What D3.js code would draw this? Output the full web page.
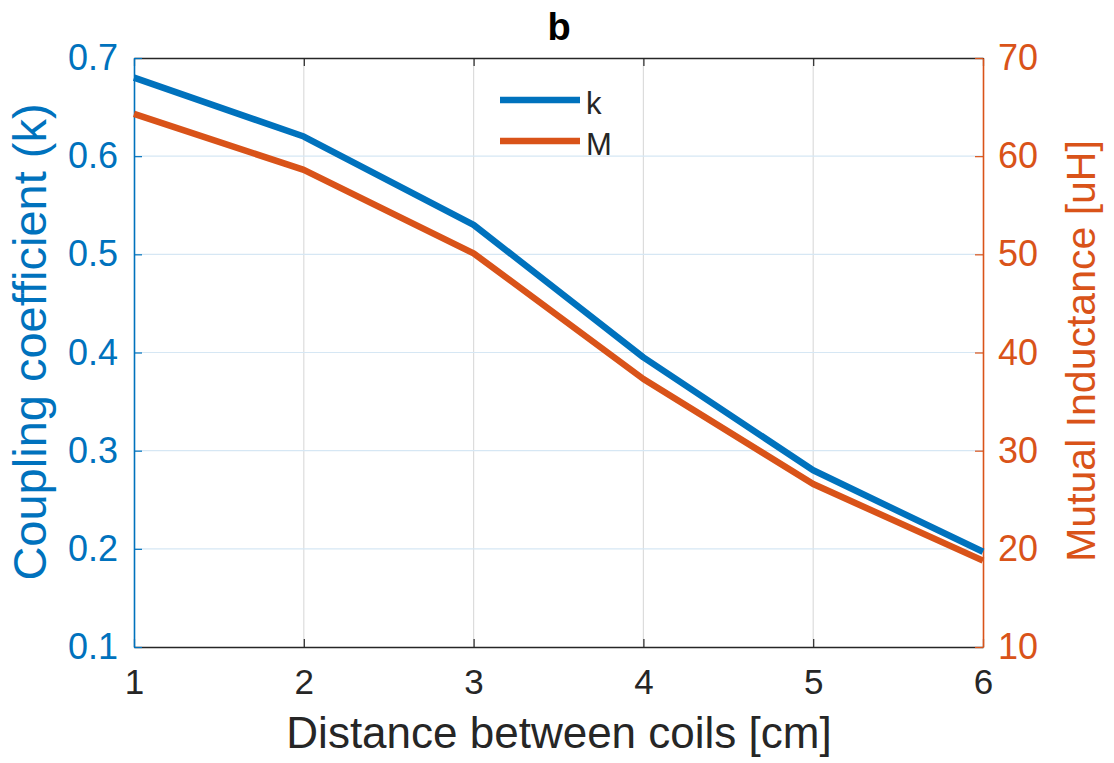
<!DOCTYPE html>
<html>
<head>
<meta charset="utf-8">
<style>
body { margin: 0; background: #fff; }
text { font-family: "Liberation Sans", Arial, sans-serif; }
</style>
<script src="https://d3js.org/d3.v7.min.js"></script>
</head>
<body>
<svg id="chart" width="1114" height="763"></svg>
<script>
// values
var distance = [1, 2, 3, 4, 5, 6];
var kValues = [0.68, 0.62, 0.53, 0.395, 0.28, 0.197];
var mValues = [64.3, 58.6, 50.1, 37.3, 26.6, 18.8];
var xTicks = [1, 2, 3, 4, 5, 6];
var kTicks = [0.1, 0.2, 0.3, 0.4, 0.5, 0.6, 0.7];
var mTicks = [10, 20, 30, 40, 50, 60, 70];

var blue = "#0072BD", orange = "#D95319", dark = "#262626";
var plotL = 134, plotR = 983, plotT = 58, plotB = 647;
var font = "'Liberation Sans', Arial, sans-serif";

var svg = d3.select("#chart");
var x = d3.scaleLinear().domain([1, 6]).range([plotL, plotR]);
var yk = d3.scaleLinear().domain([0.1, 0.7]).range([plotB, plotT]);
var ym = d3.scaleLinear().domain([10, 70]).range([plotB, plotT]);

// grid
svg.append("g").selectAll("line").data(xTicks.slice(1, -1)).join("line")
  .attr("x1", function(d){ return x(d); }).attr("x2", function(d){ return x(d); })
  .attr("y1", plotT).attr("y2", plotB)
  .attr("stroke", "#dcdcdc").attr("stroke-width", 1.2);
svg.append("g").selectAll("line").data(kTicks.slice(1, -1)).join("line")
  .attr("x1", plotL).attr("x2", plotR)
  .attr("y1", function(d){ return yk(d); }).attr("y2", function(d){ return yk(d); })
  .attr("stroke", "#d6e7f4").attr("stroke-width", 1.2);

// axes
var gb = svg.append("g").attr("transform", "translate(0," + plotB + ")")
  .call(d3.axisBottom(x).tickValues(xTicks).tickFormat(d3.format("d"))
    .tickSizeInner(-8).tickSizeOuter(0).tickPadding(22));
var gt = svg.append("g").attr("transform", "translate(0," + plotT + ")")
  .call(d3.axisTop(x).tickValues(xTicks).tickSizeInner(-8).tickSizeOuter(0).tickFormat(""));
[gb, gt].forEach(function(g){
  g.select(".domain").attr("stroke", dark).attr("stroke-width", 1.5);
  g.selectAll(".tick line").attr("stroke", dark).attr("stroke-width", 1.2);
  g.selectAll("text").attr("fill", dark).style("font-size", "35px").style("font-family", font);
});

var gl = svg.append("g").attr("transform", "translate(" + plotL + ",0)")
  .call(d3.axisLeft(yk).tickValues(kTicks).tickFormat(d3.format(".1f"))
    .tickSizeInner(-8).tickSizeOuter(0).tickPadding(16));
var gr = svg.append("g").attr("transform", "translate(" + plotR + ",0)")
  .call(d3.axisRight(ym).tickValues(mTicks).tickFormat(d3.format("d"))
    .tickSizeInner(-8).tickSizeOuter(0).tickPadding(15));
[[gl, blue], [gr, orange]].forEach(function(p){
  var g = p[0], c = p[1];
  g.select(".domain").attr("stroke", c).attr("stroke-width", 1.6);
  g.selectAll(".tick line").attr("stroke", c).attr("stroke-width", 1.2);
  g.selectAll("text").attr("fill", c).style("font-size", "36px").style("font-family", font);
});

// lines
var lineK = d3.line().x(function(d, i){ return x(distance[i]); }).y(function(d){ return yk(d); });
var lineM = d3.line().x(function(d, i){ return x(distance[i]); }).y(function(d){ return ym(d); });
svg.append("path").datum(kValues).attr("d", lineK)
  .attr("fill", "none").attr("stroke", blue).attr("stroke-width", 6.5).attr("stroke-linejoin", "round");
svg.append("path").datum(mValues).attr("d", lineM)
  .attr("fill", "none").attr("stroke", orange).attr("stroke-width", 6.5).attr("stroke-linejoin", "round");

// legend
var legend = [["k", blue], ["M", orange]];
var lg = svg.append("g").selectAll("g").data(legend).join("g")
  .attr("transform", function(d, i){ return "translate(500," + (100 + i * 41) + ")"; });
lg.append("line").attr("x1", 0).attr("x2", 80)
  .attr("stroke", function(d){ return d[1]; }).attr("stroke-width", 6.5);
lg.append("text").attr("x", 86).attr("y", 14).attr("fill", dark)
  .style("font-size", "31px").text(function(d){ return d[0]; });

// titles
svg.append("text").attr("x", 559).attr("y", 40).attr("text-anchor", "middle")
  .attr("fill", "#000").style("font-size", "38px").style("font-weight", "bold").text("b");
svg.append("text").attr("x", 559).attr("y", 748).attr("text-anchor", "middle")
  .attr("fill", dark).style("font-size", "44px").text("Distance between coils [cm]");
svg.append("text").attr("transform", "translate(46,342) rotate(-90)").attr("text-anchor", "middle")
  .attr("fill", blue).style("font-size", "47px").text("Coupling coefficient (k)");
svg.append("text").attr("transform", "translate(1095,351) rotate(-90)").attr("text-anchor", "middle")
  .attr("fill", orange).style("font-size", "41px").text("Mutual Inductance [uH]");
</script>
</body>
</html>
